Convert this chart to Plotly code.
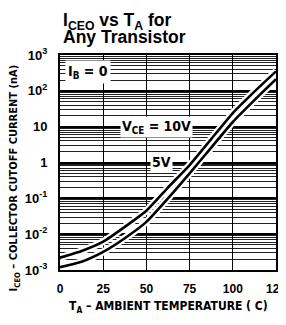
import plotly.graph_objects as go

temps = [0, 12.5, 25, 37.5, 50, 62.5, 75, 87.5, 100, 112.5, 125]
i_vce10 = [2.2e-3, 3.4e-3, 6.2e-3, 0.016, 0.045, 0.2, 0.85, 4.5, 24, 95, 350]
i_vce5 = [1.2e-3, 1.7e-3, 3.2e-3, 7.7e-3, 0.022, 0.1, 0.5, 2.6, 13.5, 55, 210]

x_ticks = [0, 25, 50, 75, 100, 125]
y_tickvals = [1e-3, 1e-2, 1e-1, 1, 10, 100, 1000]
y_ticktext = ["10<sup>-3</sup>", "10<sup>-2</sup>", "10<sup>-1</sup>", "1", "10", "10<sup>2</sup>", "10<sup>3</sup>"]

minor_vals = [k * 10 ** d for d in range(-3, 3) for k in range(2, 10)]

FONT = "Liberation Sans Narrow, DejaVu Sans Condensed, Arial Narrow, sans-serif"
TICK_FONT = "Liberation Sans Narrow, Liberation Sans, Arial, sans-serif"
TITLE_FONT = "Liberation Sans, Arial, sans-serif"

fig = go.Figure()
for ys in (i_vce10, i_vce5):
    fig.add_trace(go.Scatter(x=temps, y=ys, mode="lines", line=dict(color="white", width=7, shape="spline", smoothing=0.5),
                             hoverinfo="skip", showlegend=False))
for ys in (i_vce10, i_vce5):
    fig.add_trace(go.Scatter(x=temps, y=ys, mode="lines", line=dict(color="black", width=2.6, shape="spline", smoothing=0.5),
                             showlegend=False))

fig.update_layout(
    width=278, height=309,
    margin=dict(l=52, r=10, t=47, b=47),
    paper_bgcolor="white", plot_bgcolor="white",
    font=dict(family=FONT, color="black", size=11),
    xaxis=dict(range=[0, 125], tickvals=x_ticks, ticktext=[f"<b>{v}</b>" for v in x_ticks],
               showgrid=True, gridcolor="black", gridwidth=1, zeroline=False, automargin=False,
               showline=True, linecolor="black", linewidth=2, mirror=True, ticks="",
               tickfont=dict(family=TICK_FONT, size=12), ticklabelstandoff=7, ticklabeloverflow="allow"),
    yaxis=dict(type="log", range=[-3, 3], tickvals=y_tickvals, ticktext=[f"<b>{t}</b>" for t in y_ticktext],
               showgrid=True, gridcolor="black", gridwidth=1.5, zeroline=False, automargin=False,
               showline=True, linecolor="black", linewidth=2, mirror=True, ticks="",
               tickfont=dict(family=TICK_FONT, size=13), ticklabelstandoff=8, ticklabeloverflow="allow",
               minor=dict(tickvals=minor_vals, showgrid=True, gridcolor="#222222", gridwidth=1, ticks="")),
)

anns = [
    dict(x=0.01, y=1.212, xref="paper", yref="paper", xanchor="left", yanchor="top", align="left",
         text="<b>I<sub>CEO</sub> vs T<sub>A</sub> for</b>", font=dict(family=TITLE_FONT, size=17.5), borderpad=0),
    dict(x=0.01, y=1.135, xref="paper", yref="paper", xanchor="left", yanchor="top", align="left",
         text="<b>Any Transistor</b>", font=dict(family=TITLE_FONT, size=17.5), borderpad=0),
    dict(x=0.025, y=0.975, xref="paper", yref="paper", xanchor="left", yanchor="top",
         text="<b>I<sub>B</sub> = 0</b>", font=dict(size=14), bgcolor="white", borderpad=2),
    dict(x=56, y=1.0, xref="x", yref="y", xanchor="center", yanchor="middle",
         text="<b>V<sub>CE</sub> = 10V</b>", font=dict(size=14), bgcolor="white", borderpad=1),
    dict(x=59, y=0.008, xref="x", yref="y", xanchor="center", yanchor="middle",
         text="<b>5V</b>", font=dict(size=14), bgcolor="white", borderpad=1),
    dict(x=0.5, y=-0.172, xref="paper", yref="paper", xanchor="center", yanchor="middle",
         text="<b>T<sub>A</sub> – AMBIENT TEMPERATURE ( C)</b>", font=dict(size=12)),
    dict(x=-0.213, y=0.43, xref="paper", yref="paper", xanchor="center", yanchor="middle", textangle=-90,
         text="<b>I<sub>CEO</sub> – COLLECTOR CUTOFF CURRENT (nA)</b>", font=dict(size=11)),
]
for a in anns:
    a.setdefault("showarrow", False)
    fig.add_annotation(**a)

fig.write_html("out.html")
